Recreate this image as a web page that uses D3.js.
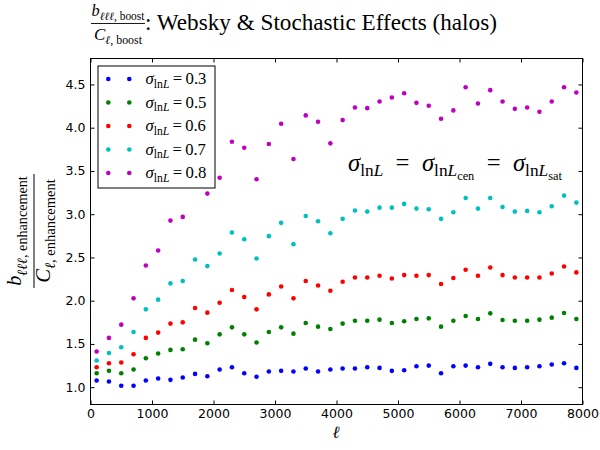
<!DOCTYPE html>
<html><head><meta charset="utf-8">
<script src="https://cdn.jsdelivr.net/npm/d3@7"></script>
<style>body{margin:0;background:#fff}</style>
</head><body>
<svg id="c" width="600" height="450" xmlns="http://www.w3.org/2000/svg"></svg>
<script>
// ---------------- data ----------------
const ell = [100,300,500,700,900,1100,1300,1500,1700,1900,2100,2300,2500,2700,2900,3100,3300,3500,3700,3900,
             4100,4300,4500,4700,4900,5100,5300,5500,5700,5900,6100,6300,6500,6700,6900,7100,7300,7500,7700,7900];
const sigmaLabels = ["0.3","0.5","0.6","0.7","0.8"];
const seriesColors = ["#0000ff","#008000","#ff0000","#00bfbf","#bf00bf"];
const s03 = [1.077,1.066,1.016,1.016,1.077,1.100,1.085,1.112,1.154,1.127,1.204,1.231,1.162,1.120,1.181,1.189,1.181,1.216,1.181,1.204,
             1.216,1.216,1.231,1.223,1.189,1.196,1.242,1.250,1.162,1.242,1.250,1.231,1.270,1.231,1.223,1.231,1.242,1.262,1.277,1.223];
const s05 = [1.162,1.189,1.162,1.204,1.335,1.389,1.431,1.439,1.550,1.508,1.611,1.692,1.611,1.516,1.639,1.692,1.619,1.743,1.700,1.673,
             1.735,1.769,1.769,1.781,1.743,1.762,1.789,1.796,1.700,1.769,1.823,1.789,1.854,1.777,1.769,1.769,1.781,1.804,1.858,1.789];
const s06 = [1.231,1.277,1.285,1.381,1.570,1.631,1.735,1.750,1.916,1.862,1.977,2.123,2.043,1.900,2.073,2.165,2.027,2.227,2.176,2.115,
             2.219,2.269,2.269,2.288,2.257,2.296,2.288,2.296,2.193,2.262,2.358,2.288,2.384,2.296,2.269,2.269,2.269,2.315,2.396,2.327];
const s07 = [1.308,1.396,1.461,1.639,1.900,2.012,2.200,2.227,2.476,2.400,2.546,2.788,2.711,2.488,2.746,2.900,2.654,2.980,2.919,2.780,
             2.946,3.042,3.030,3.076,3.076,3.119,3.065,3.057,2.946,3.023,3.188,3.065,3.188,3.084,3.030,3.038,3.023,3.092,3.215,3.134];
const s08 = [1.412,1.570,1.723,2.027,2.407,2.580,2.926,2.969,3.450,3.238,3.422,3.837,3.768,3.404,3.811,4.045,3.638,4.142,4.068,3.819,
             4.088,4.234,4.226,4.303,4.349,4.399,4.287,4.253,4.103,4.200,4.468,4.280,4.434,4.303,4.218,4.234,4.184,4.303,4.468,4.407];
const seriesValues = [s03,s05,s06,s07,s08];
const xTicks = [0,1000,2000,3000,4000,5000,6000,7000,8000];
const yTicks = [1.0,1.5,2.0,2.5,3.0,3.5,4.0,4.5];
const xDomain = [0,8000];
const yDomain = [0.8,4.8];

// ---------------- drawing ----------------
const SERIF = "'Liberation Serif','DejaVu Serif',serif";
const SANS = "'DejaVu Sans',sans-serif";
const svg = d3.select("#c");
const L = 90.5, R = 582.5, T = 58.5, B = 404.5;
const x = d3.scaleLinear().domain(xDomain).range([L, R]);
const y = d3.scaleLinear().domain(yDomain).range([B, T]);

function mathText(parent, px, py, segs, size, anchor) {
  const t = parent.append("text").attr("x", px).attr("y", py)
    .attr("font-family", SERIF).attr("fill", "#000")
    .attr("text-anchor", anchor || "start");
  const offs = [0, 0.22, 0.36], scl = [1, 0.7, 0.5];
  let cur = 0;
  segs.forEach(s => {
    const lvl = s.l || 0;
    const off = (s.o !== undefined ? s.o : offs[lvl]) * size;
    t.append("tspan").attr("dy", off - cur)
      .attr("font-size", size * scl[lvl])
      .attr("font-style", s.i ? "italic" : "normal")
      .style("white-space", "pre")
      .text(s.t);
    cur = off;
  });
  return t;
}
function fitMath(parent, px, py, segs, targetW, guess, anchor) {
  const t = mathText(parent, px, py, segs, guess, anchor);
  const w = t.node().getBBox().width;
  t.remove();
  return mathText(parent, px, py, segs, guess * targetW / w, anchor);
}

// axes
const gx = svg.append("g").attr("transform", `translate(0,${B})`)
  .call(d3.axisBottom(x).tickValues(xTicks).tickFormat(d3.format("d")).tickSizeInner(-4).tickSizeOuter(0).tickPadding(5));
const gxt = svg.append("g").attr("transform", `translate(0,${T})`)
  .call(d3.axisTop(x).tickValues(xTicks).tickFormat("").tickSizeInner(-4).tickSizeOuter(0));
const gy = svg.append("g").attr("transform", `translate(${L},0)`)
  .call(d3.axisLeft(y).tickValues(yTicks).tickFormat(d3.format(".1f")).tickSizeInner(-4).tickSizeOuter(0).tickPadding(5));
const gyr = svg.append("g").attr("transform", `translate(${R},0)`)
  .call(d3.axisRight(y).tickValues(yTicks).tickFormat("").tickSizeInner(-4).tickSizeOuter(0));
[gx, gxt, gy, gyr].forEach(g => {
  g.select(".domain").remove();
  g.selectAll(".tick line").attr("stroke", "#000");
  g.selectAll("text").attr("font-family", SANS).attr("font-size", 12.5).attr("fill", "#000");
});

// points
seriesValues.forEach((vals, si) => {
  svg.append("g").selectAll("circle").data(ell.map((e, i) => [e, vals[i]]))
    .join("circle")
    .attr("cx", d => x(d[0])).attr("cy", d => y(d[1]))
    .attr("r", 2.3).attr("fill", seriesColors[si]);
});

// frame
svg.append("rect").attr("x", L).attr("y", T).attr("width", R - L).attr("height", B - T)
  .attr("fill", "none").attr("stroke", "#000").attr("stroke-width", 1);

// legend
const lg = svg.append("g");
lg.append("rect").attr("x", 98).attr("y", 66).attr("width", 117).attr("height", 122)
  .attr("fill", "#fff").attr("stroke", "#000").attr("stroke-width", 1);
const rowY = [79, 102.5, 126, 149.5, 173];
sigmaLabels.forEach((lab, i) => {
  [108.3, 129.3].forEach(mx => lg.append("circle").attr("cx", mx).attr("cy", rowY[i]).attr("r", 2.3).attr("fill", seriesColors[i]));
  fitMath(lg, 145.5, rowY[i] + 5, [
    {t: "σ", i: 1}, {t: "ln", l: 1}, {t: "L", i: 1, l: 1}, {t: "\u2009=\u2009" + lab, o: 0}
  ], 61, 15);
});

// annotation
fitMath(svg, 348, 171, [
  {t: "σ", i: 1}, {t: "ln", l: 1}, {t: "L", i: 1, l: 1},
  {t: "  =  ", o: 0}, {t: "σ", i: 1, o: 0}, {t: "ln", l: 1}, {t: "L", i: 1, l: 1}, {t: "cen", l: 2},
  {t: "  =  ", o: 0}, {t: "σ", i: 1, o: 0}, {t: "ln", l: 1}, {t: "L", i: 1, l: 1}, {t: "sat", l: 2}
], 214, 22);

// title
const tg = svg.append("g");
fitMath(tg, 118, 16, [{t: "b", i: 1}, {t: "ℓℓℓ", i: 1, l: 1}, {t: ", boost", l: 1}], 53, 15, "middle");
tg.append("line").attr("x1", 91).attr("x2", 145).attr("y1", 23.5).attr("y2", 23.5).attr("stroke", "#000").attr("stroke-width", 0.9);
fitMath(tg, 118, 40, [{t: "C", i: 1}, {t: "ℓ", i: 1, l: 1}, {t: ", boost", l: 1}], 48, 15, "middle");
fitMath(tg, 145, 30, [{t: ": Websky & Stochastic Effects (halos)"}], 352, 20);

// y label
const yl = svg.append("g").attr("transform", "translate(34,231) rotate(-90)");
fitMath(yl, 0, -13, [{t: "b", i: 1}, {t: "ℓℓℓ", i: 1, l: 1, o: 0.3}, {t: ", enhancement", l: 1, o: 0.3}], 110, 19, "middle");
yl.append("line").attr("x1", -57).attr("x2", 57).attr("y1", 0).attr("y2", 0).attr("stroke", "#000").attr("stroke-width", 1);
fitMath(yl, 0, 16, [{t: "C", i: 1}, {t: "ℓ", i: 1, l: 1, o: 0.25}, {t: ", enhancement", l: 1, o: 0.25}], 104, 19, "middle");

// x label
svg.append("text").attr("x", 336).attr("y", 438).attr("text-anchor", "middle")
  .attr("font-family", SERIF).attr("font-style", "italic").attr("font-size", 17).text("ℓ");
</script>
</body></html>
